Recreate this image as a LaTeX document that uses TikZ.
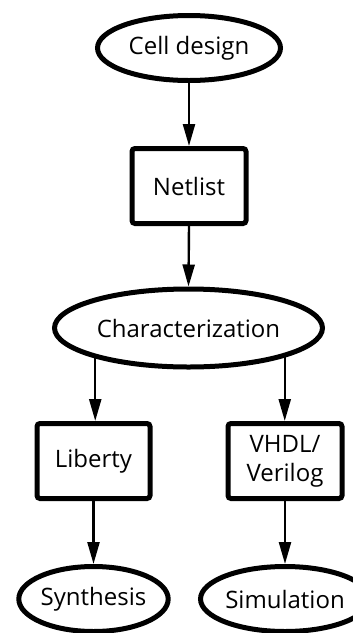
\documentclass[tikz,border=0pt]{standalone}
\usepackage{fontspec}
\setmainfont{Open Sans}
\usepackage{tikz}
\usetikzlibrary{shapes.geometric}
\usetikzlibrary{arrows.meta}
\usetikzlibrary{positioning}

\begin{document}
\begin{tikzpicture}[x=1pt,y=-1pt,
oval/.style={ellipse, draw, line width=5pt, inner sep=0pt, minimum height=65pt},
block/.style={rectangle, draw, line width=5pt, rounded corners=3pt, inner sep=0pt,
minimum width=114pt, minimum height=75pt, align=center},
flow/.style={-{Triangle[length=22pt,width=12pt]}, line width=2.4pt},
font=\fontsize{24}{29}\selectfont]
\useasboundingbox (0,0) rectangle (353,633);
\node[oval, minimum width=183pt] (cell) at (189,48) {Cell design};
\node[block] (net) at (189,186) {Netlist};
\node[oval, minimum width=268pt, minimum height=78pt] (char) at (188.5,328) {Characterization};
\node[block, minimum width=113pt] (lib) at (93.5,461) {Liberty};
\node[block] (hdl) at (285,461) {VHDL/\\Verilog};
\node[oval, minimum width=146pt] (syn) at (93.5,599) {Synthesis};
\node[oval, minimum width=150pt] (sim) at (285,599) {Simulation};
\draw[flow] (cell.south) -- (net.north);
\draw[flow] (net.south) -- (char.north);
\draw[flow] (char.198) -- (char.198 |- lib.north);
\draw[flow] (char.-17) -- (char.-17 |- hdl.north);
\draw[flow] (lib.south) -- (syn.north);
\draw[flow] (hdl.south) -- (sim.north);
\end{tikzpicture}
\end{document}
